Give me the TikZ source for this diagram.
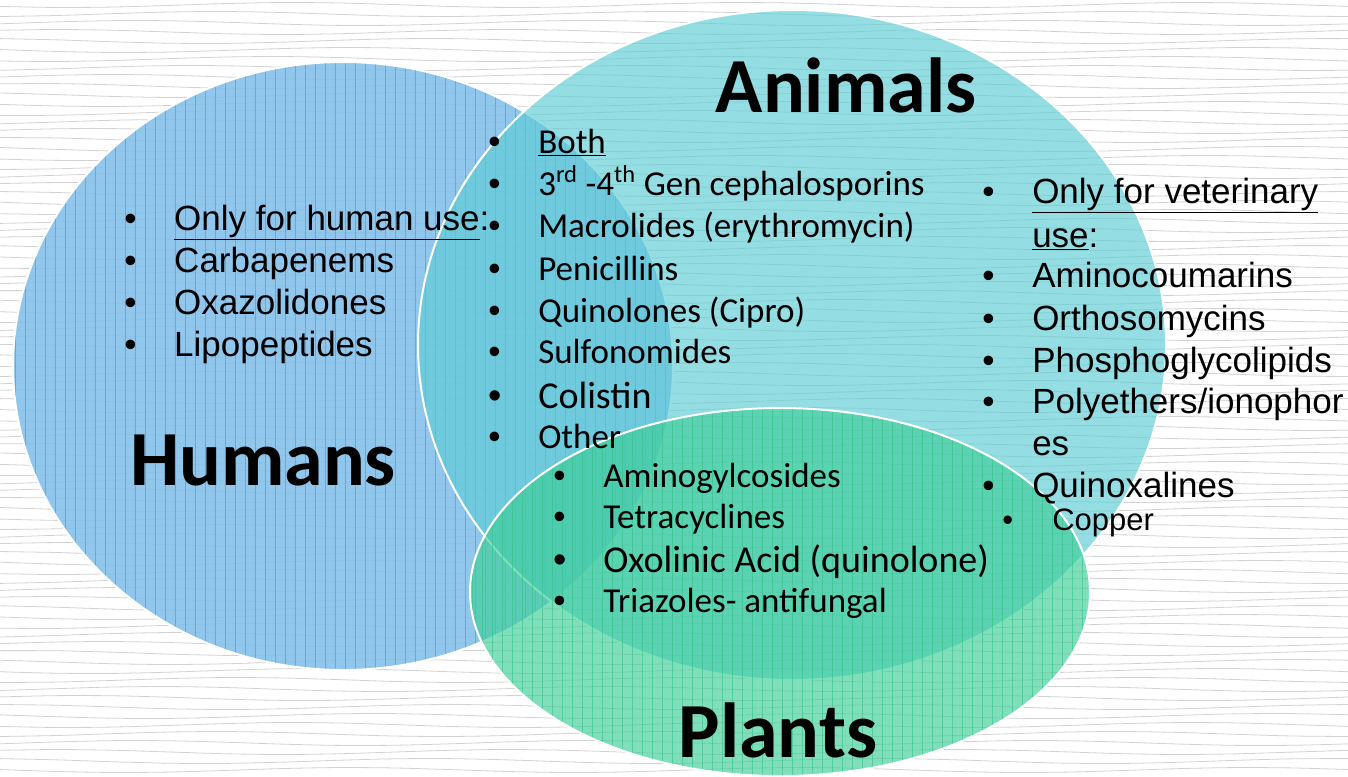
\documentclass[tikz,border=0pt]{standalone}
\usepackage{fontspec}
\setmainfont{Liberation Sans}
\newfontfamily\calibri{Carlito}
\usepackage{tikz}

\definecolor{humanblue}{HTML}{86C1EA}
\definecolor{humangrid}{HTML}{3E9AD8}
\definecolor{animalteal}{HTML}{5CCCD4}
\definecolor{plantgreen}{HTML}{3DCE98}
\definecolor{plantgrid}{HTML}{35C18A}
\definecolor{woodline}{HTML}{D2D2D2}

\newcommand{\blt}{\makebox[37.5pt][l]{\rmfamily\textbullet}}

\begin{document}
\begin{tikzpicture}[
x=0.75pt, y=-0.75pt,
    title/.style={anchor=base, inner sep=0pt, font=\calibri\bfseries\fontsize{58.5}{64}\selectfont},
    arial/.style={anchor=base west, inner sep=0pt, font=\fontsize{26.25}{30}\selectfont},
    arialsmall/.style={anchor=base west, inner sep=0pt, font=\fontsize{23.25}{26}\selectfont},
    cal/.style={anchor=base west, inner sep=0pt, font=\calibri\fontsize{26.25}{30}\selectfont},
    calbig/.style={anchor=base west, inner sep=0pt, font=\calibri\fontsize{28.5}{32}\selectfont},
    setline/.style={draw=white, line width=1.5pt}
]

    % Background
    \useasboundingbox (0,0) rectangle (1348,776);
    \fill[white] (0,0) rectangle (1348,776);
    \foreach \wy in {5,14,...,776}
        \draw[woodline, line width=0.6pt] plot[domain=0:1348, samples=25, smooth] (\x, {\wy + 2.5*sin(\x*0.8 + \wy*7)});

    % Humans set
    \begin{scope}
        \clip (343,366) ellipse [x radius=330, y radius=304];
        \fill[humanblue, opacity=0.9] (0,0) rectangle (1348,776);
        \foreach \gx in {15,25,...,675}
            \draw[humangrid, line width=0.5pt, opacity=0.6] (\gx,55) -- (\gx,680);
    \end{scope}
    \draw[setline] (343,366) ellipse [x radius=330, y radius=304];

    % Animals set
    \fill[animalteal, opacity=0.65] (792,345) ellipse [x radius=374, y radius=335];
    \draw[setline] (792,345) ellipse [x radius=374, y radius=335];

    % Plants set
    \begin{scope}
        \clip (780,592) ellipse [x radius=310, y radius=184];
        \fill[plantgreen, opacity=0.65] (0,0) rectangle (1348,776);
        \foreach \gx in {472,482,...,1092}
            \draw[plantgrid, line width=0.5pt, opacity=0.6] (\gx,400) -- (\gx,776);
    \end{scope}
    \draw[setline] (780,592) ellipse [x radius=310, y radius=184];

    % Titles
    \node[title] (animals) at (846,112) {Animals};
    \node[title] (humans) at (263,485) {Humans};
    \node[title] (plants) at (778,757) {Plants};

    % Humans only
    \node[arial] (humhead) at (124,230) {\blt\underline{Only for human use}:};
    \node[arial] (hum1) at (124,272) {\blt Carbapenems};
    \node[arial] (hum2) at (124,314) {\blt Oxazolidones};
    \node[arial] (hum3) at (124,356) {\blt Lipopeptides};

    % Both
    \node[cal] (bothhead) at (488,153) {\blt\underline{Both}};
    \node[cal] (both1) at (488,195) {\blt 3\textsuperscript{rd} -4\textsuperscript{th} Gen cephalosporins};
    \node[cal] (both2) at (488,237) {\blt Macrolides (erythromycin)};
    \node[cal] (both3) at (488,280) {\blt Penicillins};
    \node[cal] (both4) at (488,322) {\blt Quinolones (Cipro)};
    \node[cal] (both5) at (488,363) {\blt Sulfonomides};
    \node[calbig] (both6) at (488,408) {\blt Colistin};
    \node[cal] (both7) at (488,448) {\blt Other};

    % Other
    \node[cal] (other1) at (553,487) {\blt Aminogylcosides};
    \node[cal] (other2) at (553,528) {\blt Tetracyclines};
    \node[calbig] (other3) at (553,572) {\blt Oxolinic Acid (quinolone)};
    \node[cal] (other4) at (553,612) {\blt Triazoles- antifungal};

    % Veterinary only
    \node[arial] (vethead) at (982,203) {\blt\underline{Only for veterinary}};
    \node[arial] (vethead2) at (1032,247) {\underline{use}:};
    \node[arial] (vet1) at (982,287) {\blt Aminocoumarins};
    \node[arial] (vet2) at (982,330) {\blt Orthosomycins};
    \node[arial] (vet3) at (982,372) {\blt Phosphoglycolipids};
    \node[arial] (vet4) at (982,413) {\blt Polyethers/ionophor};
    \node[arial] (vet4b) at (1032,455) {es};
    \node[arial] (vet5) at (982,497) {\blt Quinoxalines};
    \node[arialsmall] (vet6) at (1002,530) {\blt Copper};

\end{tikzpicture}
\end{document}
